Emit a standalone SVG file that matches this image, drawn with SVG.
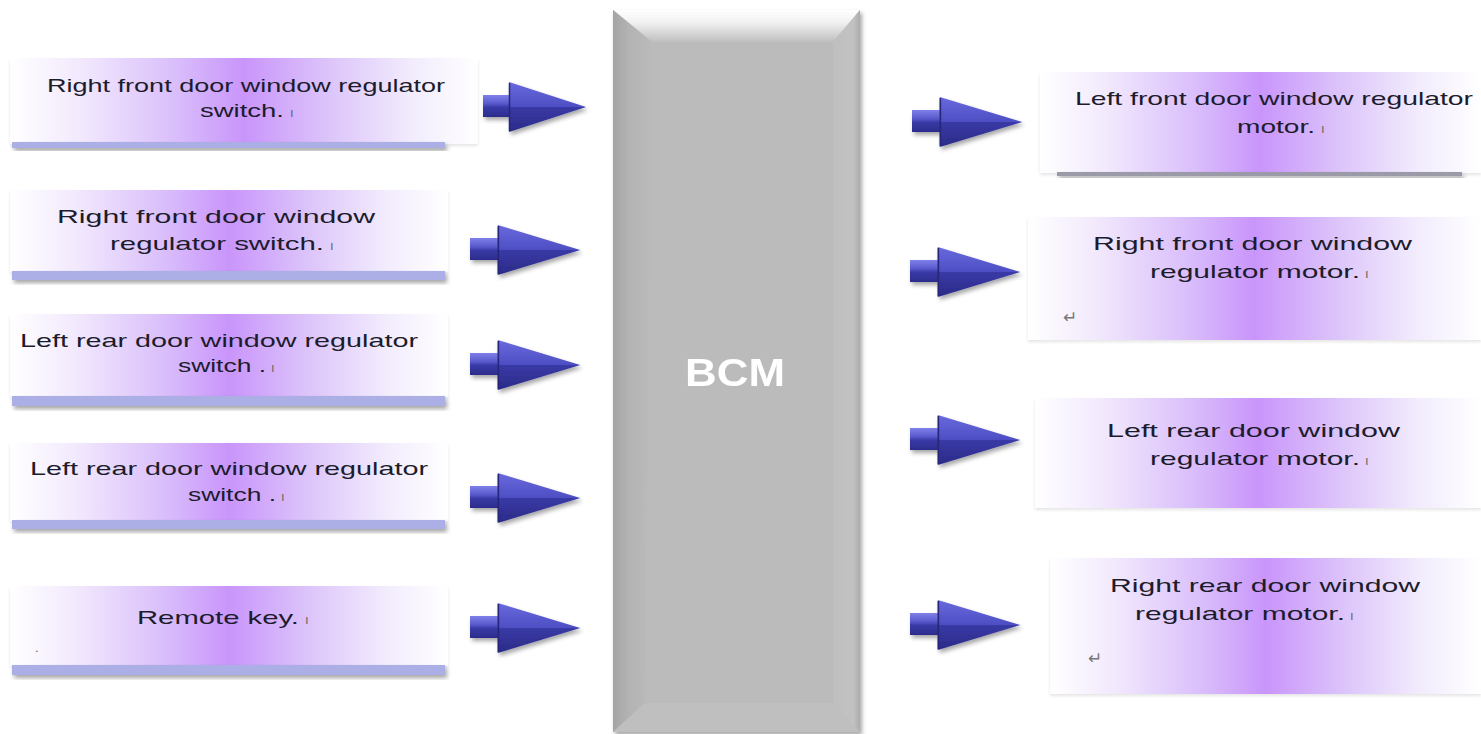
<svg xmlns="http://www.w3.org/2000/svg" width="1481" height="734" viewBox="0 0 1481 734">
  <defs>
    <linearGradient id="pg" x1="0" y1="0" x2="1" y2="0">
      <stop offset="0" stop-color="#ffffff"/>
      <stop offset="0.15" stop-color="#f2e9fd"/>
      <stop offset="0.35" stop-color="#dabffb"/>
      <stop offset="0.5" stop-color="#c995fb"/>
      <stop offset="0.68" stop-color="#dcc4fa"/>
      <stop offset="0.86" stop-color="#f2ecfd"/>
      <stop offset="1" stop-color="#ffffff"/>
    </linearGradient>
    <linearGradient id="shaftG" x1="0" y1="0" x2="0" y2="1">
      <stop offset="0" stop-color="#8080ea"/>
      <stop offset="0.4" stop-color="#5858cc"/>
      <stop offset="0.55" stop-color="#3a3aa8"/>
      <stop offset="1" stop-color="#2c2c8c"/>
    </linearGradient>
    <linearGradient id="headG" x1="0" y1="0" x2="0" y2="1">
      <stop offset="0" stop-color="#6a6ade"/>
      <stop offset="0.5" stop-color="#4e4ec4"/>
      <stop offset="0.5" stop-color="#3a3aa6"/>
      <stop offset="1" stop-color="#2a2a88"/>
    </linearGradient>
    <linearGradient id="bevTop" x1="0" y1="0" x2="0" y2="1">
      <stop offset="0" stop-color="#ffffff"/>
      <stop offset="0.4" stop-color="#f0f0f0"/>
      <stop offset="1" stop-color="#bfbfbf"/>
    </linearGradient>
    <linearGradient id="bevLeft" x1="0" y1="0" x2="1" y2="0">
      <stop offset="0" stop-color="#a4a4a4"/>
      <stop offset="0.4" stop-color="#b3b3b3"/>
      <stop offset="1" stop-color="#bbbbbb"/>
    </linearGradient>
    <linearGradient id="bevRight" x1="0" y1="0" x2="1" y2="0">
      <stop offset="0" stop-color="#bfbfbf"/>
      <stop offset="0.75" stop-color="#c2c2c2"/>
      <stop offset="1" stop-color="#acacac"/>
    </linearGradient>
    <filter id="sh" x="-10%" y="-10%" width="130%" height="160%">
      <feDropShadow dx="2" dy="3" stdDeviation="2" flood-color="#000" flood-opacity="0.35"/>
    </filter>
    <filter id="shBox" x="-5%" y="-5%" width="110%" height="115%">
      <feDropShadow dx="0" dy="2" stdDeviation="1.5" flood-color="#000" flood-opacity="0.1"/>
    </filter>
    <g id="arr">
      <rect x="0" y="-12" width="38" height="22" fill="url(#shaftG)"/>
      <polygon points="26,-25 103,0 26,25" fill="url(#headG)"/>
      <line x1="26.5" y1="-24" x2="26.5" y2="24" stroke="#25257a" stroke-width="1.5"/>
    </g>
  </defs>
  <style>
    .t { font-family: "Liberation Sans", Arial, sans-serif; font-size: 19px; fill: #1c1c2c; }
    .pm { font-family: "Liberation Sans", Arial, sans-serif; font-size: 13px; fill: #666; }
    .bar { fill: #acaee6; }
    .mark { font-family: "DejaVu Sans", sans-serif; font-size: 17px; fill: #777; }
  </style>
  <rect width="1481" height="734" fill="#ffffff"/>

  <!-- BCM -->
  <g id="bcm" filter="url(#sh)">
    <rect x="613" y="10" width="247" height="722" fill="#bbbbbb"/>
    <polygon points="613,10 860,10 833,42 652,42" fill="url(#bevTop)"/>
    <polygon points="613,10 652,42 645,703 613,732" fill="url(#bevLeft)"/>
    <polygon points="860,10 833,42 833,703 860,732" fill="url(#bevRight)"/>
    <polygon points="613,732 645,703 833,703 860,732" fill="#bfbfbf"/>
    <text x="735" y="386" text-anchor="middle" font-family="Liberation Sans, Arial, sans-serif" font-weight="bold" font-size="38" fill="#ffffff" textLength="100" lengthAdjust="spacingAndGlyphs">BCM</text>
  </g>

  <!-- Left nodes -->
  <g id="in1">
    <rect x="10" y="58" width="468" height="86" fill="url(#pg)" filter="url(#shBox)"/>
    <rect class="bar" x="12" y="142" width="433" height="6" filter="url(#sh)"/>
    <text class="t" x="47" y="92" textLength="398" lengthAdjust="spacingAndGlyphs">Right front door window  regulator</text>
    <text class="t" x="200" y="117" textLength="84" lengthAdjust="spacingAndGlyphs">switch.</text>
    <text class="pm" x="290" y="117">ı</text>
  </g>
  <g id="in2">
    <rect x="10" y="190" width="438" height="82" fill="url(#pg)" filter="url(#shBox)"/>
    <rect class="bar" x="12" y="271" width="433" height="9" filter="url(#sh)"/>
    <text class="t" x="57" y="223" textLength="318" lengthAdjust="spacingAndGlyphs">Right front door window</text>
    <text class="t" x="110" y="250" textLength="214" lengthAdjust="spacingAndGlyphs">regulator switch.</text>
    <text class="pm" x="330" y="250">ı</text>
  </g>
  <g id="in3">
    <rect x="10" y="314" width="438" height="83" fill="url(#pg)" filter="url(#shBox)"/>
    <rect class="bar" x="12" y="396" width="433" height="10" filter="url(#sh)"/>
    <text class="t" x="20" y="347" textLength="398" lengthAdjust="spacingAndGlyphs">Left rear door window regulator</text>
    <text class="t" x="178" y="372" textLength="88" lengthAdjust="spacingAndGlyphs">switch .</text>
    <text class="pm" x="271" y="372">ı</text>
  </g>
  <g id="in4">
    <rect x="10" y="443" width="438" height="78" fill="url(#pg)" filter="url(#shBox)"/>
    <rect class="bar" x="12" y="520" width="433" height="9" filter="url(#sh)"/>
    <text class="t" x="30" y="475" textLength="398" lengthAdjust="spacingAndGlyphs">Left rear door window regulator</text>
    <text class="t" x="188" y="501" textLength="88" lengthAdjust="spacingAndGlyphs">switch .</text>
    <text class="pm" x="281" y="501">ı</text>
  </g>
  <g id="in5">
    <rect x="10" y="586" width="438" height="80" fill="url(#pg)" filter="url(#shBox)"/>
    <rect class="bar" x="12" y="665" width="433" height="10" filter="url(#sh)"/>
    <text class="t" x="137" y="624" textLength="162" lengthAdjust="spacingAndGlyphs">Remote key.</text>
    <text class="pm" x="305" y="624">ı</text>
    <text class="pm" x="35" y="652">.</text>
  </g>

  <!-- Right nodes -->
  <g id="out1">
    <rect x="1040" y="72" width="441" height="101" fill="url(#pg)" filter="url(#shBox)"/>
    <rect x="1057" y="172" width="405" height="4" fill="#9a9aa8" filter="url(#sh)"/>
    <text class="t" x="1075" y="105" textLength="398" lengthAdjust="spacingAndGlyphs">Left front door window regulator</text>
    <text class="t" x="1237" y="133" textLength="78" lengthAdjust="spacingAndGlyphs">motor.</text>
    <text class="pm" x="1321" y="133">ı</text>
  </g>
  <g id="out2">
    <rect x="1028" y="217" width="453" height="123" fill="url(#pg)" filter="url(#shBox)"/>
    <text class="t" x="1093" y="250" textLength="319" lengthAdjust="spacingAndGlyphs">Right front door window</text>
    <text class="t" x="1150" y="278" textLength="210" lengthAdjust="spacingAndGlyphs">regulator motor.</text>
    <text class="pm" x="1365" y="278">ı</text>
    <text class="mark" x="1063" y="323">↵</text>
  </g>
  <g id="out3">
    <rect x="1035" y="398" width="446" height="110" fill="url(#pg)" filter="url(#shBox)"/>
    <text class="t" x="1107" y="437" textLength="293" lengthAdjust="spacingAndGlyphs">Left rear door window</text>
    <text class="t" x="1150" y="465" textLength="210" lengthAdjust="spacingAndGlyphs">regulator motor.</text>
    <text class="pm" x="1365" y="465">ı</text>
  </g>
  <g id="out4">
    <rect x="1050" y="558" width="431" height="136" fill="url(#pg)" filter="url(#shBox)"/>
    <text class="t" x="1110" y="592" textLength="310" lengthAdjust="spacingAndGlyphs">Right rear door window</text>
    <text class="t" x="1135" y="620" textLength="210" lengthAdjust="spacingAndGlyphs">regulator motor.</text>
    <text class="pm" x="1350" y="620">ı</text>
    <text class="mark" x="1088" y="664">↵</text>
  </g>

  <!-- Connectors -->
  <g id="connectors" filter="url(#sh)">
    <use href="#arr" transform="translate(483,107)"/>
    <use href="#arr" transform="translate(470,250) scale(1.07,1)"/>
    <use href="#arr" transform="translate(470,365) scale(1.07,1)"/>
    <use href="#arr" transform="translate(470,498) scale(1.07,1)"/>
    <use href="#arr" transform="translate(470,628) scale(1.07,1)"/>
    <use href="#arr" transform="translate(912,122) scale(1.07,1)"/>
    <use href="#arr" transform="translate(910,272) scale(1.07,1)"/>
    <use href="#arr" transform="translate(910,440) scale(1.07,1)"/>
    <use href="#arr" transform="translate(910,625) scale(1.07,1)"/>
  </g>
</svg>
